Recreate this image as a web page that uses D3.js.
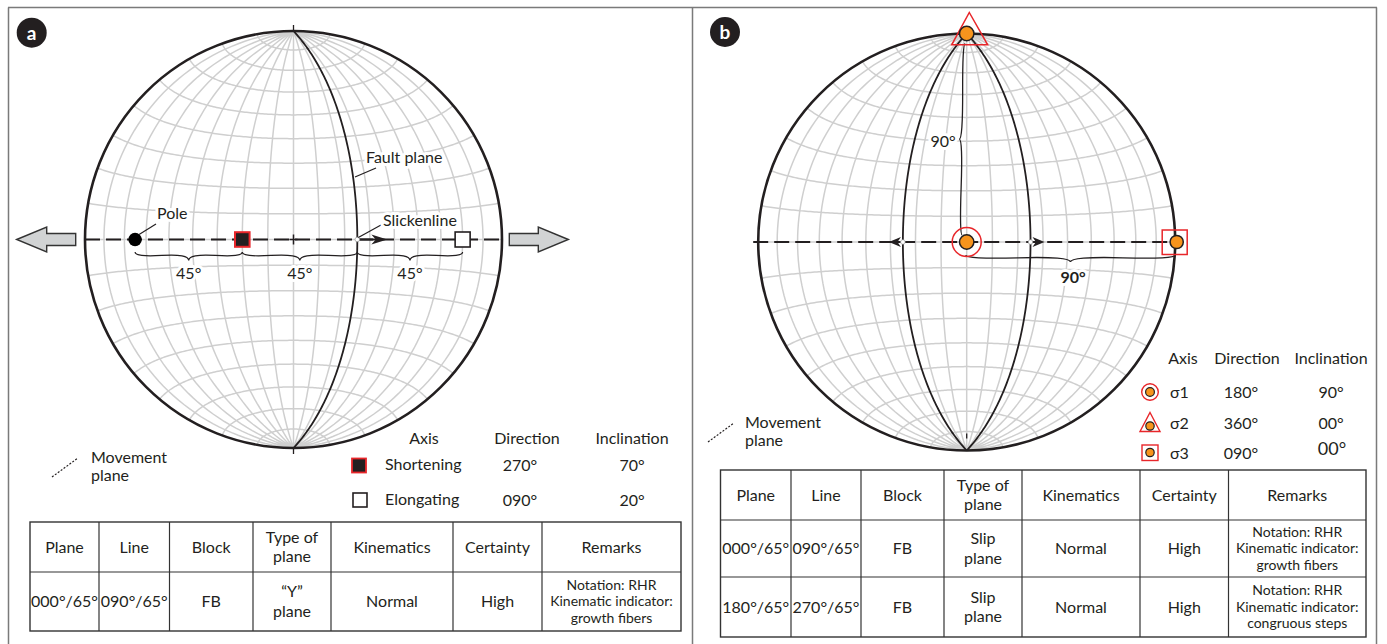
<!DOCTYPE html>
<html>
<head>
<meta charset="utf-8">
<script src="https://cdn.jsdelivr.net/npm/d3@7"></script>
<style>
  body { margin: 0; background: #fff; }
  svg { display: block; }
  text { font-family: Lato, "Open Sans", sans-serif; fill: #231f20; }
</style>
</head>
<body>
<svg id="fig" width="1387" height="644"></svg>
<script>
// ---------------- data ----------------
// Panel a: one fault plane (RHR strike/dip) and the lines measured on it
const faultPlanesA = [{ strike: 0, dip: 65 }];
const poleA = { trend: 270, plunge: 25 };
const shorteningA = { trend: 270, plunge: 70 };
const elongatingA = { trend: 90, plunge: 20 };
const slickenlineA = { trend: 90, plunge: 65 };
const anglesA = ["45°", "45°", "45°"];

// Panel b: conjugate slip planes and principal stress axes
const faultPlanesB = [{ strike: 0, dip: 65 }, { strike: 180, dip: 65 }];
const sigma1 = { trend: 180, plunge: 90 };
const sigma2 = { trend: 360, plunge: 0 };
const sigma3 = { trend: 90, plunge: 0 };
const anglesB = ["90°", "90°"];

// Legends
const legendHeaders = ["Axis", "Direction", "Inclination"];
const legendARows = [
  ["Shortening", "270°", "70°"],
  ["Elongating", "090°", "20°"]
];
const legendBRows = [
  ["σ1", "180°", "90°"],
  ["σ2", "360°", "00°"],
  ["σ3", "090°", "00°"]
];

// Tables
const tableHeaders = ["Plane", "Line", "Block", "Type of\nplane", "Kinematics", "Certainty", "Remarks"];
const tableARows = [
  ["000°/65°", "090°/65°", "FB", "“Y”\nplane", "Normal", "High", "Notation: RHR\nKinematic indicator:\ngrowth fibers"]
];
const tableBRows = [
  ["000°/65°", "090°/65°", "FB", "Slip\nplane", "Normal", "High", "Notation: RHR\nKinematic indicator:\ngrowth fibers"],
  ["180°/65°", "270°/65°", "FB", "Slip\nplane", "Normal", "High", "Notation: RHR\nKinematic indicator:\ncongruous steps"]
];

// ---------------- helpers ----------------
const rad = Math.PI / 180;
const clamp = v => Math.max(-1, Math.min(1, v));
const INK = "#231f20", GRID = "#cfcfcf", RED = "#e8262a", ORANGE = "#f7941d";

// trend/plunge (lower hemisphere) -> [lon, lat] on an equatorial net whose poles are N and S
function lineToGeo(d) {
  const t = d.trend * rad, p = d.plunge * rad;
  const x = Math.cos(p) * Math.sin(t), y = Math.cos(p) * Math.cos(t), z = Math.sin(p);
  return [Math.atan2(x, z) / rad, Math.asin(clamp(y)) / rad];
}
// great circle of a plane given by RHR strike/dip
function planeToGeo(d) {
  const s = d.strike * rad, dp = d.dip * rad, coords = [];
  const sv = [Math.sin(s), Math.cos(s), 0];
  const dv = [Math.cos(dp) * Math.sin(s + Math.PI / 2), Math.cos(dp) * Math.cos(s + Math.PI / 2), Math.sin(dp)];
  for (let a = 0; a <= 180; a += 1) {
    const ar = a * rad;
    const v = sv.map((c, i) => c * Math.cos(ar) + dv[i] * Math.sin(ar));
    coords.push([Math.atan2(v[0], v[2]) / rad, Math.asin(clamp(v[1])) / rad]);
  }
  return { type: "LineString", coordinates: coords };
}
// Schmidt net graticule, 10° spacing
function netGrid() {
  const lines = [];
  for (let lon = -80; lon <= 80; lon += 10) {
    lines.push(d3.range(-90, 90.01, 2).map(lat => [lon, lat]));
  }
  for (let lat = -80; lat <= 80; lat += 10) {
    lines.push(d3.range(-90, 90.01, 1).map(lon => [lon, lat]));
  }
  return { type: "MultiLineString", coordinates: lines };
}
// curly brace between two points, bulging to the right of p1->p2 direction
function bracePath(x1, y1, x2, y2, w, q) {
  let dx = x1 - x2, dy = y1 - y2;
  const len = Math.hypot(dx, dy); dx /= len; dy /= len;
  const qx1 = x1 + q * w * dy, qy1 = y1 - q * w * dx;
  const qx2 = (x1 - .25 * len * dx) + (1 - q) * w * dy, qy2 = (y1 - .25 * len * dy) - (1 - q) * w * dx;
  const tx1 = (x1 - .5 * len * dx) + w * dy, ty1 = (y1 - .5 * len * dy) - w * dx;
  const qx3 = x2 + q * w * dy, qy3 = y2 - q * w * dx;
  const qx4 = (x1 - .75 * len * dx) + (1 - q) * w * dy, qy4 = (y1 - .75 * len * dy) - (1 - q) * w * dx;
  return `M${x1},${y1}Q${qx1},${qy1} ${qx2},${qy2}T${tx1},${ty1}M${x2},${y2}Q${qx3},${qy3} ${qx4},${qy4}T${tx1},${ty1}`;
}
function haloText(g, x, y, str, opts = {}) {
  return g.append("text").attr("x", x).attr("y", y).attr("dy", "0.35em")
    .attr("text-anchor", opts.anchor || "start")
    .attr("font-size", opts.size || 16)
    .attr("font-weight", opts.weight || "normal")
    .attr("stroke", "#fff").attr("stroke-width", 6).attr("stroke-linejoin", "round")
    .attr("paint-order", "stroke").text(str);
}
function plainText(g, x, y, str, opts = {}) {
  return g.append("text").attr("x", x).attr("y", y).attr("dy", "0.35em")
    .attr("text-anchor", opts.anchor || "start")
    .attr("font-size", opts.size || 16)
    .attr("font-weight", opts.weight || "normal").text(str);
}
function arrowHead(g, x, y, dir, len) {
  const b = x - dir * len, n = x - dir * len * 0.72;
  g.append("path").attr("d", `M${x},${y}L${b},${y - 5}L${n},${y}L${b},${y + 5}Z`).attr("fill", INK);
}
function blockArrow(g, tipX, y, dir) {
  // shaft 29px, head 30px, drawn pointing in dir (+1 right, -1 left)
  const hb = tipX - dir * 30, sb = hb - dir * 29;
  const pts = [[tipX, y], [hb, y - 12.5], [hb, y - 6], [sb, y - 6], [sb, y + 6], [hb, y + 6], [hb, y + 12.5]];
  g.append("path").attr("d", "M" + pts.map(p => p.join(",")).join("L") + "Z")
    .attr("fill", "#d1d3d4").attr("stroke", "#333").attr("stroke-width", 1.4);
}
function drawNet(g, proj) {
  const path = d3.geoPath(proj);
  g.append("path").datum(netGrid()).attr("d", path)
    .attr("fill", "none").attr("stroke", GRID).attr("stroke-width", 1.5);
  return path;
}
function panelBadge(svg, x, y, letter) {
  svg.append("circle").attr("cx", x).attr("cy", y).attr("r", 15).attr("fill", INK);
  svg.append("text").attr("x", x).attr("y", y).attr("dy", "0.36em").attr("text-anchor", "middle")
    .attr("font-size", 19).attr("font-weight", "bold").style("fill", "#fff").text(letter);
}
function movementLegend(g, x, y, tx) {
  g.append("line").attr("x1", x).attr("y1", y + 15).attr("x2", x + 26).attr("y2", y - 4)
    .attr("stroke", INK).attr("stroke-width", 1.2).attr("stroke-dasharray", "2,1.6");
  plainText(g, tx, y - 5, "Movement");
  plainText(g, tx, y + 13, "plane");
}
function drawTable(g, xs, ys, headers, rows) {
  const stroke = "#333";
  g.append("rect").attr("x", xs[0]).attr("y", ys[0])
    .attr("width", xs[xs.length - 1] - xs[0]).attr("height", ys[ys.length - 1] - ys[0])
    .attr("fill", "none").attr("stroke", stroke).attr("stroke-width", 1.4);
  xs.slice(1, -1).forEach(x => g.append("line").attr("x1", x).attr("x2", x)
    .attr("y1", ys[0]).attr("y2", ys[ys.length - 1]).attr("stroke", stroke).attr("stroke-width", 1.2));
  ys.slice(1, -1).forEach(y => g.append("line").attr("y1", y).attr("y2", y)
    .attr("x1", xs[0]).attr("x2", xs[xs.length - 1]).attr("stroke", stroke).attr("stroke-width", 1.2));
  const all = [headers].concat(rows);
  all.forEach((row, ri) => {
    const cy = (ys[ri] + ys[ri + 1]) / 2;
    row.forEach((cell, ci) => {
      const cx = (xs[ci] + xs[ci + 1]) / 2;
      const lines = cell.split("\n");
      const small = ri > 0 && ci === row.length - 1;
      const fs = small ? 14 : 16, lh = small ? 16.5 : 19.5;
      lines.forEach((ln, li) => {
        plainText(g, cx, cy + (li - (lines.length - 1) / 2) * lh, ln, { anchor: "middle", size: fs });
      });
    });
  });
}

const svg = d3.select("#fig");
svg.append("rect").attr("width", 1387).attr("height", 644).attr("fill", "#fff");

// frame
const frame = svg.append("g").attr("stroke", "#7a7a7a").attr("stroke-width", 1.5).attr("fill", "none");
frame.append("line").attr("x1", 8).attr("x2", 1377).attr("y1", 7.5).attr("y2", 7.5);
[8.5, 692.5, 1376.5].forEach(x => frame.append("line").attr("x1", x).attr("x2", x).attr("y1", 7.5).attr("y2", 644));

// ================= Panel a =================
{
  const cx = 293.5, cy = 239.5, R = 208.5;
  const g = svg.append("g");
  const proj = d3.geoAzimuthalEqualArea().rotate([0, 0]).scale(R / Math.SQRT2).translate([cx, cy]);
  const path = drawNet(g, proj);

  // movement plane (dashed E-W vertical plane)
  g.append("line").attr("x1", cx - R).attr("x2", cx + R).attr("y1", cy).attr("y2", cy)
    .attr("stroke", INK).attr("stroke-width", 2).attr("stroke-dasharray", "15,6");

  // fault plane
  faultPlanesA.forEach(p => g.append("path").datum(planeToGeo(p)).attr("d", path)
    .attr("fill", "none").attr("stroke", INK).attr("stroke-width", 1.8));

  // primitive, N/S ticks and centre cross
  g.append("circle").attr("cx", cx).attr("cy", cy).attr("r", R).attr("fill", "none").attr("stroke", INK).attr("stroke-width", 2.6);
  g.append("line").attr("x1", cx).attr("x2", cx).attr("y1", cy - R - 6).attr("y2", cy - R).attr("stroke", INK).attr("stroke-width", 1.3);
  g.append("line").attr("x1", cx).attr("x2", cx).attr("y1", cy + R).attr("y2", cy + R + 6).attr("stroke", INK).attr("stroke-width", 1.3);
  g.append("line").attr("x1", cx).attr("x2", cx).attr("y1", cy - 5).attr("y2", cy + 5).attr("stroke", INK).attr("stroke-width", 1.5);
  g.append("line").attr("x1", cx - 4).attr("x2", cx + 4).attr("y1", cy).attr("y2", cy).attr("stroke", INK).attr("stroke-width", 1.5);

  // slickenline and arrow
  const sl = proj(lineToGeo(slickenlineA));
  g.append("line").attr("x1", sl[0]).attr("x2", sl[0] + 20).attr("y1", sl[1]).attr("y2", sl[1]).attr("stroke", INK).attr("stroke-width", 2);
  arrowHead(g, sl[0] + 30, sl[1], 1, 16);
  g.append("circle").attr("cx", sl[0]).attr("cy", sl[1]).attr("r", 2.3).attr("fill", "#fff").attr("stroke", "#999").attr("stroke-width", 0.7);

  // pole, shortening, elongating
  const po = proj(lineToGeo(poleA));
  const sh = proj(lineToGeo(shorteningA));
  const el = proj(lineToGeo(elongatingA));
  g.append("circle").attr("cx", po[0]).attr("cy", po[1]).attr("r", 6.7).attr("fill", "#000");
  g.append("rect").attr("x", sh[0] - 7.3).attr("y", sh[1] - 7.3).attr("width", 14.6).attr("height", 14.6)
    .attr("fill", INK).attr("stroke", RED).attr("stroke-width", 2);
  g.append("rect").attr("x", el[0] - 7.5).attr("y", el[1] - 7.5).attr("width", 15).attr("height", 15)
    .attr("fill", "#fff").attr("stroke", INK).attr("stroke-width", 1.6);

  // braces and angle labels
  const stops = [po[0], sh[0], sl[0], el[0]];
  anglesA.forEach((lab, i) => {
    const x1 = stops[i], x2 = stops[i + 1];
    g.append("path").attr("d", bracePath(x1, cy + 12.5, x2, cy + 12.5, 8.5, 0.6))
      .attr("fill", "none").attr("stroke", INK).attr("stroke-width", 1.2);
    haloText(g, (x1 + x2) / 2, cy + 33.5, lab, { anchor: "middle" });
  });

  // labels with leaders
  g.append("line").attr("x1", po[0] + 4).attr("y1", po[1] - 5).attr("x2", 156).attr("y2", 224).attr("stroke", INK).attr("stroke-width", 1.2);
  haloText(g, 157, 213.5, "Pole");
  g.append("line").attr("x1", 355).attr("y1", 177).attr("x2", 376).attr("y2", 168).attr("stroke", INK).attr("stroke-width", 1.2);
  haloText(g, 366, 157, "Fault plane");
  g.append("line").attr("x1", sl[0] + 1).attr("y1", sl[1] - 2).attr("x2", 381).attr("y2", 225).attr("stroke", INK).attr("stroke-width", 1.2);
  haloText(g, 383, 220, "Slickenline");

  // block arrows (extension direction)
  blockArrow(g, 16.7, cy, -1);
  blockArrow(g, 568.3, cy, 1);

  panelBadge(svg, 31.7, 32.7, "a");
  movementLegend(svg.append("g"), 52, 462, 91);

  // axis legend
  const lg = svg.append("g");
  const colX = [424, 527, 632];
  legendHeaders.forEach((h, i) => plainText(lg, colX[i], 438.5, h, { anchor: "middle" }));
  const rowY = [465.5, 500];
  legendARows.forEach((r, i) => {
    if (i === 0) lg.append("rect").attr("x", 352).attr("y", rowY[i] - 7).attr("width", 14).attr("height", 14)
      .attr("fill", INK).attr("stroke", RED).attr("stroke-width", 1.8);
    else lg.append("rect").attr("x", 353).attr("y", rowY[i] - 7).attr("width", 14).attr("height", 14)
      .attr("fill", "#fff").attr("stroke", INK).attr("stroke-width", 1.6);
    plainText(lg, 385, rowY[i] - 1, r[0]);
    plainText(lg, 520, rowY[i], r[1], { anchor: "middle" });
    plainText(lg, 632, rowY[i], r[2], { anchor: "middle" });
  });

  drawTable(svg.append("g"), [30, 99, 169.5, 253, 331, 453, 542, 681], [522, 572, 631], tableHeaders, tableARows);
}

// ================= Panel b =================
{
  const cx = 966.7, cy = 242, R = 208.5;
  const g = svg.append("g");
  const proj = d3.geoAzimuthalEqualArea().rotate([0, 0]).scale(R / Math.SQRT2).translate([cx, cy]);
  const path = drawNet(g, proj);

  g.append("line").attr("x1", cx - R - 5).attr("x2", cx + R).attr("y1", cy).attr("y2", cy)
    .attr("stroke", INK).attr("stroke-width", 2).attr("stroke-dasharray", "15,6");

  faultPlanesB.forEach(p => g.append("path").datum(planeToGeo(p)).attr("d", path)
    .attr("fill", "none").attr("stroke", INK).attr("stroke-width", 1.8));

  g.append("circle").attr("cx", cx).attr("cy", cy).attr("r", R).attr("fill", "none").attr("stroke", INK).attr("stroke-width", 2.6);
  g.append("line").attr("x1", cx).attr("x2", cx).attr("y1", cy + R - 17).attr("y2", cy + R - 12).attr("stroke", INK).attr("stroke-width", 1.3);

  // slip directions on the two planes
  faultPlanesB.forEach(p => {
    const dipDir = (p.strike + 90) % 360;
    const pt = proj(lineToGeo({ trend: dipDir, plunge: p.dip }));
    const dir = pt[0] < cx ? -1 : 1;
    g.append("line").attr("x1", pt[0]).attr("x2", pt[0] + dir * 6).attr("y1", pt[1]).attr("y2", pt[1]).attr("stroke", INK).attr("stroke-width", 2);
    arrowHead(g, pt[0] + dir * 14, pt[1], dir, 12);
    g.append("circle").attr("cx", pt[0]).attr("cy", pt[1]).attr("r", 2.3).attr("fill", "#fff").attr("stroke", "#999").attr("stroke-width", 0.7);
  });

  const s1 = proj(lineToGeo(sigma1));
  const s2 = proj(lineToGeo(sigma2));
  const s3 = proj(lineToGeo(sigma3));

  // braces
  g.append("path").attr("d", bracePath(s2[0] - 1.5, s2[1] + 10, s1[0] - 4.5, s1[1] - 7, 4.5, 0.6))
    .attr("fill", "none").attr("stroke", INK).attr("stroke-width", 1.3);
  haloText(g, 943, 141.5, anglesB[0], { anchor: "middle" });
  g.append("path").attr("d", bracePath(s1[0] - 1, s1[1] + 13, s3[0], s3[1] + 13, 7, 0.6))
    .attr("fill", "none").attr("stroke", INK).attr("stroke-width", 1.3);
  haloText(g, 1073, 277, anglesB[1], { anchor: "middle", weight: "bold" });

  // stress axes
  g.append("circle").attr("cx", s1[0]).attr("cy", s1[1]).attr("r", 14.5).attr("fill", "none").attr("stroke", RED).attr("stroke-width", 1.5);
  g.append("circle").attr("cx", s1[0]).attr("cy", s1[1]).attr("r", 7.2).attr("fill", ORANGE).attr("stroke", INK).attr("stroke-width", 1.5);
  g.append("path").attr("d", `M${s2[0] + 2.6},${s2[1] - 21}L${s2[0] + 21},${s2[1] + 11.3}L${s2[0] - 15},${s2[1] + 11.3}Z`)
    .attr("fill", "none").attr("stroke", RED).attr("stroke-width", 1.5);
  g.append("circle").attr("cx", s2[0]).attr("cy", s2[1]).attr("r", 7.2).attr("fill", ORANGE).attr("stroke", INK).attr("stroke-width", 1.5);
  g.append("rect").attr("x", s3[0] - 13).attr("y", s3[1] - 12).attr("width", 25).attr("height", 24.5)
    .attr("fill", "none").attr("stroke", RED).attr("stroke-width", 1.5);
  g.append("circle").attr("cx", s3[0] + 1.5).attr("cy", s3[1]).attr("r", 6.6).attr("fill", ORANGE).attr("stroke", INK).attr("stroke-width", 1.5);

  panelBadge(svg, 725, 32, "b");
  movementLegend(svg.append("g"), 708, 427, 745);

  // stress legend
  const lg = svg.append("g");
  const colX = [1183, 1247, 1331];
  legendHeaders.forEach((h, i) => plainText(lg, colX[i], 358.5, h, { anchor: "middle" }));
  const rowY = [392, 423.5, 453];
  const sx = 1150;
  // σ1 symbol
  lg.append("circle").attr("cx", sx).attr("cy", rowY[0]).attr("r", 8.3).attr("fill", "#fff").attr("stroke", RED).attr("stroke-width", 1.4);
  lg.append("circle").attr("cx", sx).attr("cy", rowY[0]).attr("r", 4.4).attr("fill", ORANGE).attr("stroke", INK).attr("stroke-width", 1.2);
  // σ2 symbol
  lg.append("path").attr("d", `M${sx},${rowY[1] - 11}L${sx + 10},${rowY[1] + 8}L${sx - 10},${rowY[1] + 8}Z`)
    .attr("fill", "#fff").attr("stroke", RED).attr("stroke-width", 1.4);
  lg.append("circle").attr("cx", sx).attr("cy", rowY[1] + 2.5).attr("r", 4.2).attr("fill", ORANGE).attr("stroke", INK).attr("stroke-width", 1.2);
  // σ3 symbol
  lg.append("rect").attr("x", sx - 8).attr("y", rowY[2] - 8).attr("width", 16).attr("height", 15.5)
    .attr("fill", "#fff").attr("stroke", RED).attr("stroke-width", 1.4);
  lg.append("circle").attr("cx", sx).attr("cy", rowY[2] - 0.5).attr("r", 4.2).attr("fill", ORANGE).attr("stroke", INK).attr("stroke-width", 1.2);
  legendBRows.forEach((r, i) => {
    plainText(lg, 1170, rowY[i], r[0]);
    plainText(lg, 1241, rowY[i], r[1], { anchor: "middle" });
    if (i === 2) plainText(lg, 1332, rowY[i] - 4.5, r[2], { anchor: "middle", size: 18 });
    else plainText(lg, 1331, rowY[i], r[2], { anchor: "middle" });
  });

  drawTable(svg.append("g"), [720.5, 791, 861, 944, 1022, 1140, 1228.5, 1366], [470, 520, 577, 637], tableHeaders, tableBRows);
}
</script>
</body>
</html>
